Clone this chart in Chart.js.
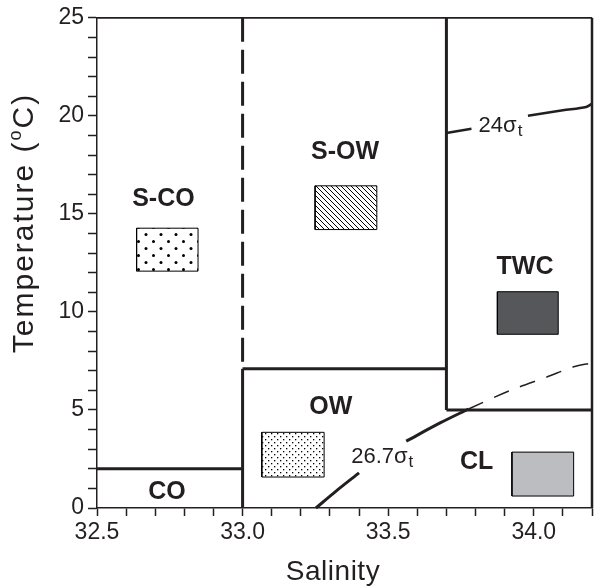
<!DOCTYPE html>
<html>
  <head>
    <meta charset="UTF-8">
    <title>T-S diagram</title>
    <script src="https://cdn.jsdelivr.net/npm/chart.js"></script>
    <style>
      body { margin: 0; background: #fff; }
      canvas { display: block; }
    </style>
  </head>
  <body>
    <canvas id="tsChart" width="597" height="588"></canvas>

    <script>
      // axis ranges and tick labels
      const salinityRange = [32.5, 34.2];
      const tempRange = [0, 25];
      const salinityLabels = ['32.5', '33.0', '33.5', '34.0'];
      const tempLabels = ['0', '5', '10', '15', '20', '25'];

      // water mass names and where their names sit (salinity, temperature)
      const massNames = ['S-CO', 'S-OW', 'OW', 'TWC', 'CL', 'CO'];
      const massNameSal = [32.728, 33.352, 33.303, 33.97, 33.804, 32.74];
      const massNameTemp = [15.74, 18.17, 5.13, 12.3, 2.34, 0.83];

      // legend swatches for each water mass
      const swatchNames = ['S-CO', 'S-OW', 'OW', 'TWC', 'CL'];
      const swatchSalLo = [32.636, 33.249, 33.066, 33.875, 33.925];
      const swatchSalHi = [32.847, 33.461, 33.280, 34.084, 34.137];
      const swatchTempLo = [12.08, 14.20, 1.58, 8.86, 0.61];
      const swatchTempHi = [14.27, 16.43, 3.86, 11.03, 2.85];

      // boundaries between water masses
      const boundaryCO = [[32.5, 2], [33.0, 2]];
      const boundary33Solid = [[33.0, 0], [33.0, 7.1]];
      const boundary33Dashed = [[33.0, 25], [33.0, 7.1]];
      const boundaryOW = [[33.0, 7.1], [33.7, 7.1]];
      const boundaryTWC = [[33.7, 25], [33.7, 5]];
      const boundaryCL = [[33.7, 5], [34.2, 5]];

      // isopycnals
      const sigma24a = [[33.70, 19.13], [33.786, 19.34]];
      const sigma24b = [[33.98, 20.0], [34.10, 20.28], [34.18, 20.45], [34.2, 20.62]];
      const sigma267a = [[33.252, 0], [33.32, 0.85], [33.40, 1.79]];
      const sigma267b = [[33.562, 3.41], [33.68, 4.35], [33.776, 5.05]];
      const sigma267c = [[33.776, 5.05], [33.92, 6.0], [34.045, 6.68], [34.137, 7.2], [34.2, 7.4]];
      const sigmaNames = ['24', '26.7'];
      const sigmaNameSal = [33.884, 33.478];
      const sigmaNameTemp = [19.48, 2.6];

      const ink = '#231f20';
      const textFont = '"Liberation Sans", Arial, sans-serif';

      function pts(arr) {
        return arr.map(p => ({ x: p[0], y: p[1] }));
      }

      function makePattern(w, h, paint) {
        const c = document.createElement('canvas');
        c.width = w;
        c.height = h;
        const g = c.getContext('2d');
        g.fillStyle = '#fff';
        g.fillRect(0, 0, w, h);
        paint(g);
        return g.createPattern(c, 'repeat');
      }

      const bigDots = makePattern(15, 14, g => {
        g.fillStyle = '#000';
        g.beginPath(); g.arc(3.5, 3.5, 1.5, 0, Math.PI * 2); g.fill();
        g.beginPath(); g.arc(11, 10.5, 1.5, 0, Math.PI * 2); g.fill();
      });
      const hatch = makePattern(5, 5, g => {
        g.strokeStyle = '#000';
        g.lineWidth = 1;
        g.beginPath();
        g.moveTo(-1, -1); g.lineTo(6, 6);
        g.moveTo(-1, 4); g.lineTo(1, 6);
        g.moveTo(4, -1); g.lineTo(6, 1);
        g.stroke();
      });
      const fineDots = makePattern(6, 6, g => {
        g.fillStyle = '#000';
        g.fillRect(1, 1, 1.3, 1.3);
        g.fillRect(4, 4, 1.3, 1.3);
      });
      const swatchFills = [bigDots, hatch, fineDots, '#56575a', '#bcbdc0'];

      const datasets = [];

      swatchNames.forEach((name, i) => {
        datasets.push({
          label: name,
          data: pts([
            [swatchSalLo[i], swatchTempLo[i]],
            [swatchSalHi[i], swatchTempLo[i]],
            [swatchSalHi[i], swatchTempHi[i]],
            [swatchSalLo[i], swatchTempHi[i]],
            [swatchSalLo[i], swatchTempLo[i]]
          ]),
          showLine: true,
          fill: 'shape',
          backgroundColor: swatchFills[i],
          borderColor: '#000',
          borderWidth: 1,
          pointRadius: 0,
          tension: 0
        });
      });

      function line(data, width, dash) {
        datasets.push({
          data: pts(data),
          showLine: true,
          fill: false,
          borderColor: ink,
          borderWidth: width,
          borderDash: dash || [],
          pointRadius: 0,
          tension: data.length > 2 ? 0.3 : 0,
          clip: false
        });
      }

      // frame top and right
      line([[32.5, 25], [34.2, 25]], 1.8);
      line([[34.2, 25], [34.2, 0]], 2.5);

      line(boundaryCO, 3);
      line(boundary33Solid, 3);
      line(boundary33Dashed, 3, [24, 8]);
      line(boundaryOW, 3);
      line(boundaryTWC, 3);
      line(boundaryCL, 3);

      line(sigma24a, 2.5);
      line(sigma24b, 2.5);
      line(sigma267a, 3);
      line(sigma267b, 3);
      line(sigma267c, 1.5, [16, 12]);

      function isMajor(v, step) {
        const r = v / step;
        return Math.abs(r - Math.round(r)) < 1e-6;
      }

      // region names, sigma-t labels and axis titles
      const textPlugin = {
        id: 'tsText',
        afterDraw(chart) {
          const ctx = chart.ctx;
          const xs = chart.scales.x;
          const ys = chart.scales.y;
          ctx.save();
          ctx.fillStyle = ink;
          ctx.textBaseline = 'middle';

          ctx.textAlign = 'center';
          ctx.font = 'bold 25px ' + textFont;
          massNames.forEach((name, i) => {
            ctx.fillText(name, xs.getPixelForValue(massNameSal[i]), ys.getPixelForValue(massNameTemp[i]));
          });

          sigmaNames.forEach((name, i) => {
            const main = name + '\u03c3';
            ctx.font = '22px ' + textFont;
            const w1 = ctx.measureText(main).width;
            ctx.font = '17px ' + textFont;
            const w2 = ctx.measureText('t').width;
            const cx = xs.getPixelForValue(sigmaNameSal[i]);
            const cy = ys.getPixelForValue(sigmaNameTemp[i]);
            const x0 = cx - (w1 + w2) / 2;
            ctx.textAlign = 'left';
            ctx.font = '22px ' + textFont;
            ctx.fillText(main, x0, cy);
            ctx.font = '17px ' + textFont;
            ctx.fillText('t', x0 + w1 + 1, cy + 5);
          });

          // x title
          ctx.textAlign = 'center';
          ctx.font = '28px ' + textFont;
          ctx.letterSpacing = '0.5px';
          ctx.fillText('Salinity', 333, 572);

          // y title with superscript degree
          const part1 = 'Temperature (';
          const part2 = 'o';
          const part3 = 'C)';
          ctx.letterSpacing = '2px';
          ctx.font = '30px ' + textFont;
          const a = ctx.measureText(part1).width;
          const c = ctx.measureText(part3).width;
          ctx.font = '18px ' + textFont;
          const b = ctx.measureText(part2).width;
          const total = a + b + c;
          ctx.translate(25, 223);
          ctx.rotate(-Math.PI / 2);
          ctx.textAlign = 'left';
          ctx.font = '30px ' + textFont;
          ctx.fillText(part1, -total / 2, 0);
          ctx.font = '18px ' + textFont;
          ctx.fillText(part2, -total / 2 + a, -9);
          ctx.font = '30px ' + textFont;
          ctx.fillText(part3, -total / 2 + a + b, 0);
          ctx.restore();
        }
      };

      new Chart(document.getElementById('tsChart'), {
        type: 'scatter',
        data: { datasets: datasets },
        options: {
          responsive: false,
          animation: false,
          devicePixelRatio: 1,
          layout: { padding: { top: 14, right: 5, left: 0, bottom: 0 } },
          plugins: {
            legend: { display: false },
            tooltip: { enabled: false }
          },
          scales: {
            x: {
              type: 'linear',
              min: salinityRange[0],
              max: salinityRange[1],
              ticks: {
                stepSize: 0.1,
                autoSkip: false,
                maxRotation: 0,
                padding: 3,
                color: ink,
                font: { family: textFont, size: 23 },
                callback: v => {
                  const s = v.toFixed(1);
                  return isMajor(v, 0.5) && salinityLabels.includes(s) ? s : '';
                }
              },
              grid: {
                drawOnChartArea: false,
                tickLength: 8,
                tickWidth: 1.5,
                tickColor: ink
              },
              border: { color: ink, width: 1.5 },
              afterFit: s => { s.height = 80; }
            },
            y: {
              type: 'linear',
              min: tempRange[0],
              max: tempRange[1],
              ticks: {
                stepSize: 1,
                autoSkip: false,
                maxTicksLimit: 100,
                padding: 4,
                color: ink,
                font: { family: textFont, size: 23 },
                callback: v => {
                  const s = String(Math.round(v));
                  return isMajor(v, 5) && tempLabels.includes(s) ? s : '';
                }
              },
              grid: {
                drawOnChartArea: false,
                tickLength: 9,
                tickWidth: 1.5,
                tickColor: ink
              },
              border: { color: ink, width: 1.5 },
              afterFit: s => { s.width = 97; }
            }
          }
        },
        plugins: [textPlugin]
      });
    </script>
  </body>
</html>
